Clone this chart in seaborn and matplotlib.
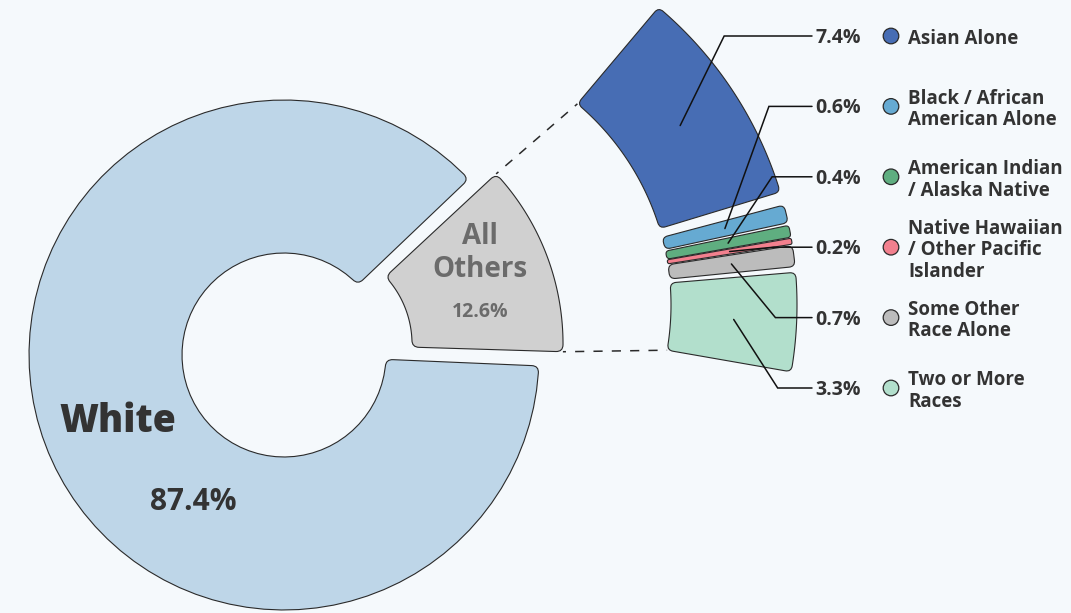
import numpy as np
import matplotlib
matplotlib.use('Agg')
import matplotlib.pyplot as plt
from matplotlib.path import Path
from matplotlib.patches import PathPatch, Circle
import seaborn as sns

# data
main_labels = ['White', 'All Others']
main_values = [87.4, 12.6]
main_colors = ['#bed6e8', '#d0d0d0']

sub_labels = ['Asian Alone', 'Black / African\nAmerican Alone', 'American Indian\n/ Alaska Native',
              'Native Hawaiian\n/ Other Pacific\nIslander', 'Some Other\nRace Alone', 'Two or More\nRaces']
sub_values = [7.4, 0.6, 0.4, 0.2, 0.7, 3.3]
sub_colors = ['#476db4', '#66aad2', '#5fae80', '#f2808e', '#bcbcbc', '#b2dfcc']

# layout (pixels, y down)
W, H = 1071, 613
bg = '#f5f9fc'
edge = '#2a2a2a'
txt = '#333333'
c0 = np.array([284.0, 355.0])
r_in, r_out = 102, 255
start_main = -2.1
pad_main = 0.35
explode_px = 31
c1 = np.array([408.0, 305.0])
ring_in, ring_out = 263, 389
ring_top = 49.9
deg_per_pct = 4.46
sub_gaps = [2.0, 0.4, 0.15, 0.2, 0.85]
label_x = 815
legend_x = 891
label_ys = np.linspace(36, 388, len(sub_values))
dy = 2  # text baseline nudge

sns.set_theme(style='white')
plt.rcParams['font.family'] = ['Open Sans', 'DejaVu Sans']


def pt(c, r, a):
    a = np.radians(a)
    return (c[0] + r * np.cos(a), c[1] - r * np.sin(a))


def rounded_sector(c, r0, r1, a0, a1, rc=6):
    rc = min(rc, (r1 - r0) / 2, r0 * np.radians(a1 - a0) / 2 * 0.9)
    do = np.degrees(rc / r1)
    di = np.degrees(rc / r0)
    verts, codes = [], []
    arc = np.linspace(a0 + do, a1 - do, 80)
    verts.append(pt(c, r1, arc[0])); codes.append(Path.MOVETO)
    for a in arc[1:]:
        verts.append(pt(c, r1, a)); codes.append(Path.LINETO)
    verts += [pt(c, r1, a1), pt(c, r1 - rc, a1)]; codes += [Path.CURVE3] * 2
    verts.append(pt(c, r0 + rc, a1)); codes.append(Path.LINETO)
    verts += [pt(c, r0, a1), pt(c, r0, a1 - di)]; codes += [Path.CURVE3] * 2
    for a in np.linspace(a1 - di, a0 + di, 60)[1:]:
        verts.append(pt(c, r0, a)); codes.append(Path.LINETO)
    verts += [pt(c, r0, a0), pt(c, r0 + rc, a0)]; codes += [Path.CURVE3] * 2
    verts.append(pt(c, r1 - rc, a0)); codes.append(Path.LINETO)
    verts += [pt(c, r1, a0), pt(c, r1, a0 + do)]; codes += [Path.CURVE3] * 2
    verts.append(verts[0]); codes.append(Path.CLOSEPOLY)
    return Path(verts, codes)


fig = plt.figure(figsize=(W / 100, H / 100), dpi=100, facecolor=bg)
ax = fig.add_axes([0, 0, 1, 1])
ax.set_facecolor(bg)
ax.set_xlim(0, W)
ax.set_ylim(H, 0)
ax.axis('off')

# main donut: All Others first, counterclockwise from start_main
spans = np.array(main_values) / sum(main_values) * 360
g0 = start_main
g1 = g0 + spans[1]
mid = (g0 + g1) / 2
cg = c0 + explode_px * np.array([np.cos(np.radians(mid)), -np.sin(np.radians(mid))])
ax.add_patch(PathPatch(rounded_sector(c0, r_in, r_out, g1 + pad_main, g0 + 360 - pad_main, 7),
                       fc=main_colors[0], ec=edge, lw=0.8))
ax.add_patch(PathPatch(rounded_sector(cg, r_in - 3, r_out - 5, g0 + pad_main, g1 - pad_main, 7),
                       fc=main_colors[1], ec=edge, lw=0.8))

# breakdown ring
a_hi = ring_top
sub_angles = []
for i, v in enumerate(sub_values):
    a_lo = a_hi - v * deg_per_pct
    sub_angles.append((a_lo, a_hi))
    ax.add_patch(PathPatch(rounded_sector(c1, ring_in, ring_out, a_lo, a_hi, 6),
                           fc=sub_colors[i], ec=edge, lw=0.8))
    if i < len(sub_gaps):
        a_hi = a_lo - sub_gaps[i]

# dashed connectors
p_top_a = pt(cg, r_out - 5, g1 - pad_main)
p_top_b = pt(c1, ring_in, sub_angles[0][1])
p_bot_a = pt(cg, r_out - 5, g0 + pad_main)
p_bot_b = pt(c1, ring_in, sub_angles[-1][0])
for a, b in [(p_top_a, p_top_b), (p_bot_a, p_bot_b)]:
    ax.plot([a[0], b[0]], [a[1], b[1]], color=edge, lw=1.1, ls=(4, (6, 6)))

# leader lines, percentages and legend
for i, (lo, hi) in enumerate(sub_angles):
    sx, sy = pt(c1, (ring_in + ring_out) / 2, (lo + hi) / 2)
    ly = label_ys[i]
    ax.plot([sx, sx + 44, label_x - 3], [sy, ly, ly], color='#111111', lw=1.1,
            solid_joinstyle='miter')
    ax.text(label_x, ly + dy, f'{sub_values[i]}%', fontsize=14, fontweight='bold',
            color=txt, va='center', ha='left')
    ax.add_patch(Circle((legend_x, ly), 7.8, fc=sub_colors[i], ec=edge, lw=0.9))
    ax.text(legend_x + 17, ly + dy + 1, sub_labels[i], fontsize=13.5, fontweight='bold',
            color=txt, va='center', ha='left', linespacing=1.1)

# main labels
ax.text(118, 418 + dy + 2, main_labels[0], fontsize=27, fontweight='heavy', color=txt,
        ha='center', va='center')
ax.text(193, 500 + dy, f'{main_values[0]}%', fontsize=21.5, fontweight='bold', color=txt,
        ha='center', va='center')
ax.text(480, 251 + dy, 'All\nOthers', fontsize=20, fontweight='bold', color='#6b6b6b',
        ha='center', va='center', linespacing=1.2)
ax.text(480, 310 + dy, f'{main_values[1]}%', fontsize=14, fontweight='bold', color='#6b6b6b',
        ha='center', va='center')

fig.savefig('out.png', dpi=100, facecolor=bg)
